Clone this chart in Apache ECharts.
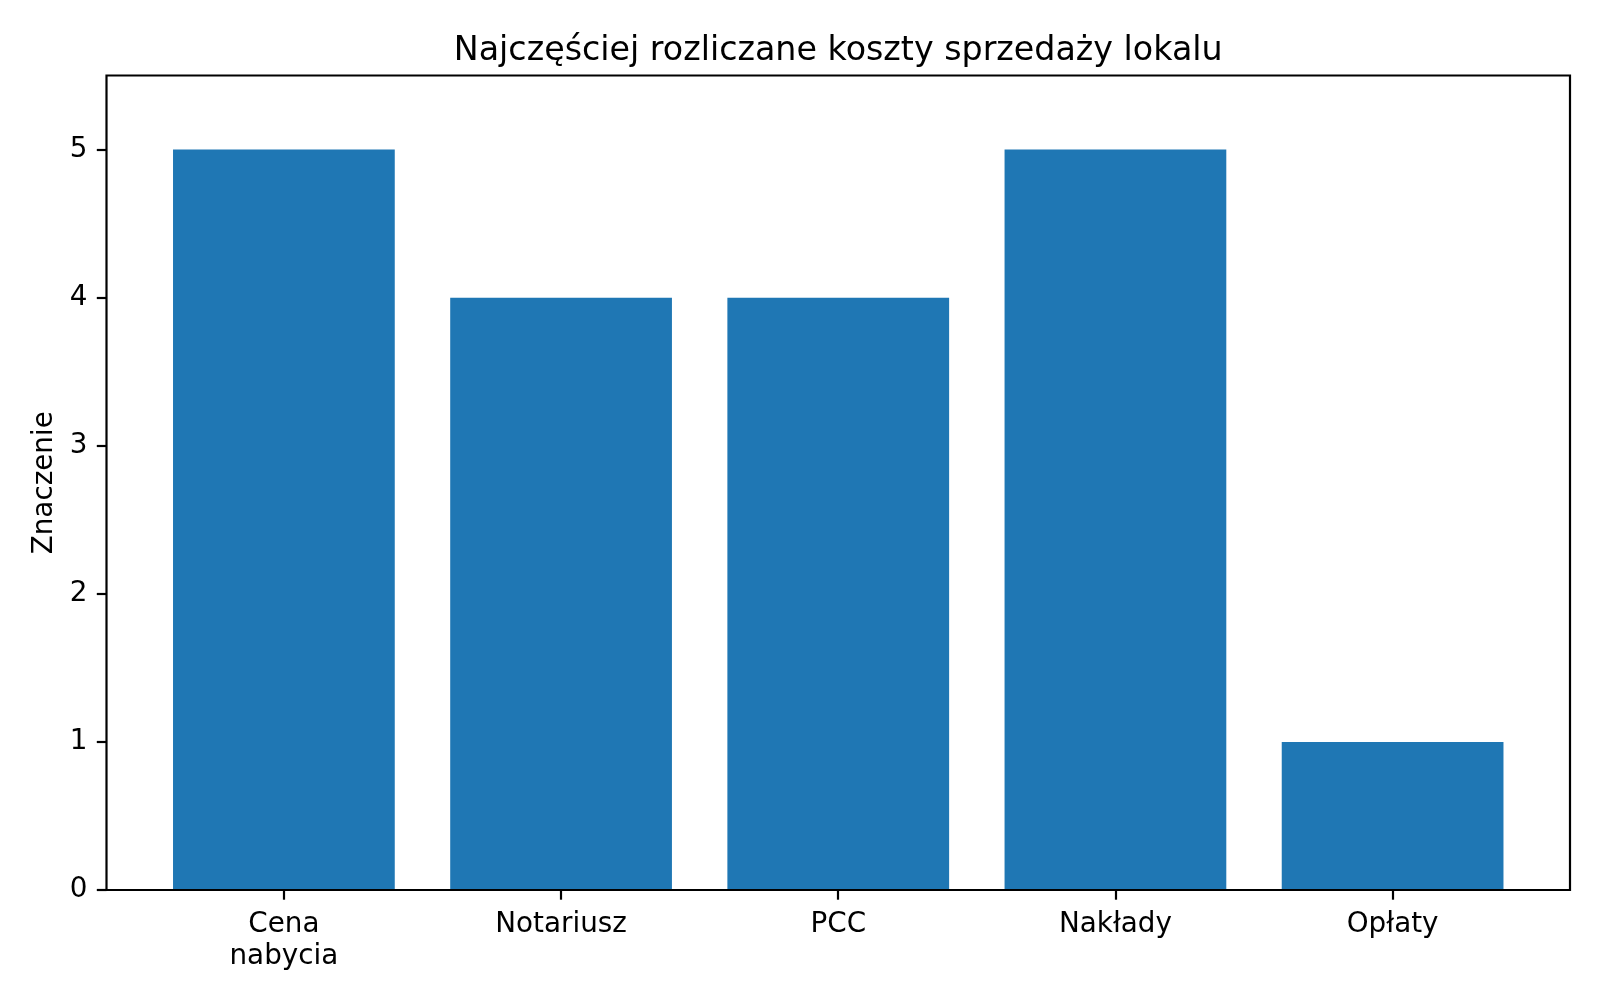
<!DOCTYPE html>
<html>
<head>
<meta charset="utf-8">
<script src="https://cdn.jsdelivr.net/npm/echarts@6/dist/echarts.min.js"></script>
<style>
  html, body { margin: 0; padding: 0; background: #fff; }
  #chart { width: 1600px; height: 1000px; }
</style>
</head>
<body>
<div id="chart"></div>
<script>
var categories = ["Cena\nnabycia", "Notariusz", "PCC", "Nakłady", "Opłaty"];
var values = [5, 4, 4, 5, 1];
var yTicks = [0, 1, 2, 3, 4, 5];

var font = "DejaVu Sans";
var chart = echarts.init(document.getElementById("chart"), null, { renderer: "canvas" });

// frame spans x from -0.64 to 4.64; categories use -0.5..4.5 inside it
var frameLeft = 106.5, frameRight = 30, frameTop = 75.5, frameBottom = 110;
var unit = (1600 - frameLeft - frameRight) / 5.28;
var inset = 0.14 * unit;

chart.setOption({
  animation: false,
  backgroundColor: "#fff",
  title: {
    text: "Najczęściej rozliczane koszty sprzedaży lokalu",
    left: (frameLeft + 1600 - frameRight) / 2 - 5,
    textAlign: "center",
    top: 30,
    textStyle: { fontFamily: font, fontSize: 33.3, fontWeight: "normal", color: "#000" }
  },
  grid: [
    {
      left: frameLeft + inset, right: frameRight + inset,
      top: frameTop, bottom: frameBottom
    },
    {
      left: frameLeft, right: frameRight, top: frameTop, bottom: frameBottom,
      show: true, borderColor: "#000", borderWidth: 2.2, backgroundColor: "transparent", z: 5
    }
  ],
  xAxis: [
    {
      type: "category",
      gridIndex: 0,
      data: categories,
      axisLine: { show: false },
      axisTick: { show: true, alignWithLabel: true, length: 9.7, lineStyle: { color: "#000", width: 2.2 } },
      axisLabel: { color: "#000", fontFamily: font, fontSize: 27.8, lineHeight: 32, margin: 19 }
    },
    { type: "value", gridIndex: 1, show: false }
  ],
  yAxis: [
    {
      type: "value",
      gridIndex: 0,
      min: 0,
      max: 5.5,
      offset: inset,
      name: "Znaczenie",
      nameLocation: "middle",
      nameGap: 48,
      nameTextStyle: { color: "#000", fontFamily: font, fontSize: 27.8 },
      splitLine: { show: false },
      axisLine: { show: false },
      axisTick: { show: true, length: 9.7, customValues: yTicks, lineStyle: { color: "#000", width: 2.2 } },
      axisLabel: { color: "#000", fontFamily: font, fontSize: 27.8, margin: 19, customValues: yTicks }
    },
    { type: "value", gridIndex: 1, show: false }
  ],
  series: [
    {
      type: "bar",
      xAxisIndex: 0,
      yAxisIndex: 0,
      data: values,
      barWidth: "80%",
      itemStyle: { color: "#1f77b4" }
    }
  ]
});
</script>
</body>
</html>
